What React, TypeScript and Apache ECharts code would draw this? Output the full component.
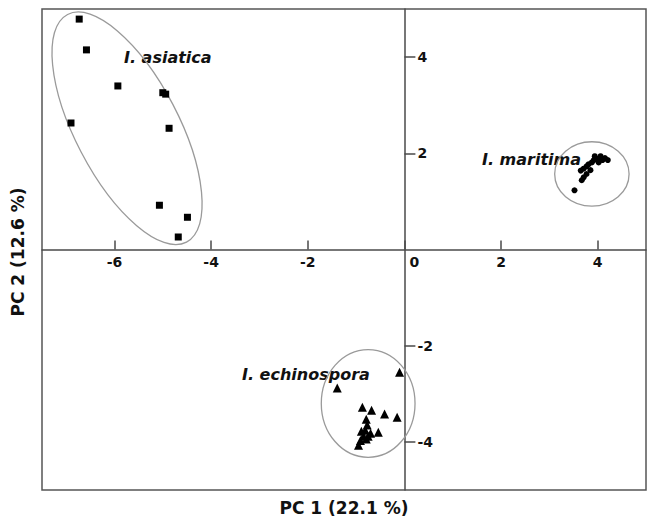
import React, { useEffect, useRef } from "react";
import * as echarts from "echarts";

// PCA scores
const asiatica: number[][] = [
  [-6.73, 4.79], [-6.58, 4.15], [-5.93, 3.40], [-5.00, 3.26], [-4.94, 3.23],
  [-6.90, 2.63], [-4.87, 2.52], [-5.07, 0.92], [-4.49, 0.67], [-4.68, 0.26],
];
const maritima: number[][] = [
  [3.52, 1.23], [3.67, 1.44], [3.71, 1.50], [3.77, 1.57], [3.65, 1.64],
  [3.71, 1.68], [3.77, 1.73], [3.81, 1.77], [3.88, 1.81], [3.92, 1.86],
  [4.00, 1.88], [4.02, 1.81], [4.10, 1.86], [4.15, 1.90], [4.21, 1.86],
  [3.94, 1.94], [4.06, 1.94], [3.85, 1.65],
];
const echinospora: number[][] = [
  [-0.10, -2.55], [-1.39, -2.88], [-0.87, -3.28], [-0.68, -3.34], [-0.41, -3.42],
  [-0.15, -3.49], [-0.79, -3.53], [-0.77, -3.65], [-0.81, -3.76], [-0.70, -3.82],
  [-0.54, -3.80], [-0.89, -3.78], [-0.85, -3.88], [-0.75, -3.88], [-0.91, -3.97],
  [-0.95, -4.07], [-0.79, -3.94],
];
// ellipses: [centerX, centerY, semiAxisX, semiAxisY, rotationDeg]
const ellipses: number[][] = [
  [-5.74, 2.52, 1.07, 2.67, 27.6],
  [3.88, 1.57, 0.77, 0.67, 0],
  [-0.75, -3.20, 0.97, 1.12, 0],
];
const xTicks = [-6, -4, -2, 0, 2, 4];
const yTicks = [-4, -2, 2, 4];
const groupNames = ["I. asiatica", "I. maritima", "I. echinospora"];

const X_MIN = -7.5, X_MAX = 5, Y_MIN = -5, Y_MAX = 5;
const W = 647, H = 522;
const G = { left: 42, right: 1, top: 9, bottom: 32 };

export default function App() {
  const ref = useRef<HTMLDivElement>(null);
  useEffect(() => {
    if (!ref.current) return;
    const chart = echarts.init(ref.current, null, { renderer: "svg" });
    const axisColor = "#4a4a4a";
    const gw = W - G.left - G.right;
    const gh = H - G.top - G.bottom;
    // move the axes (line, ticks and labels) onto the zero lines
    const xOffset = -(gh * (0 - Y_MIN)) / (Y_MAX - Y_MIN);
    const yOffset = -(gw * (0 - X_MIN)) / (X_MAX - X_MIN);
    const labelStyle = {
      fontFamily: "DejaVu Sans",
      fontWeight: "bold" as const,
      fontStyle: "italic" as const,
      fontSize: 16,
      fill: "#111",
    };
    const tickFont = { fontWeight: "bold" as const, fontSize: 14, fontFamily: "DejaVu Sans", color: "#111" };
    const titleStyle = { fontFamily: "DejaVu Sans", fontWeight: "bold" as const, fontSize: 17, fill: "#111", textAlign: "center" as const, textVerticalAlign: "middle" as const };
    chart.setOption({
      animation: false,
      backgroundColor: "#fff",
      grid: {
        ...G,
        show: true, borderColor: "#555", borderWidth: 1.5,
      },
      xAxis: {
        type: "value", min: X_MIN, max: X_MAX, offset: xOffset,
        axisLine: { onZero: false, lineStyle: { color: axisColor, width: 1.5 } },
        axisTick: { show: true, inside: true, length: 9, customValues: xTicks, lineStyle: { color: axisColor, width: 1.5 } },
        axisLabel: {
          customValues: xTicks, margin: 5, ...tickFont,
          formatter: (v: number) => (v === 0 ? "{z|0}" : String(v)),
          rich: { z: { padding: [0, 0, 0, 20], ...tickFont } },
        },
        splitLine: { show: false },
      },
      yAxis: {
        type: "value", min: Y_MIN, max: Y_MAX, offset: yOffset,
        axisLine: { onZero: false, lineStyle: { color: axisColor, width: 1.5 } },
        axisTick: { show: true, inside: true, length: 11, customValues: yTicks, lineStyle: { color: axisColor, width: 1.5 } },
        axisLabel: {
          inside: true, customValues: yTicks, margin: 13, ...tickFont,
        },
        splitLine: { show: false },
      },
      series: [
        {
          type: "custom",
          data: ellipses,
          encode: { x: 0, y: 1 },
          renderItem: (_params: any, api: any) => {
            const c = api.coord([api.value(0), api.value(1)]);
            const s = api.size([1, 1]);
            return {
              type: "ellipse",
              x: c[0], y: c[1],
              rotation: (api.value(4) * Math.PI) / 180,
              shape: { cx: 0, cy: 0, rx: api.value(2) * s[0], ry: api.value(3) * s[1] },
              style: { fill: "none", stroke: "#9a9a9a", lineWidth: 1.3 },
            };
          },
          z: 1,
        },
        {
          name: groupNames[0], type: "scatter", data: asiatica, symbol: "rect", symbolSize: 7,
          itemStyle: { color: "#000", opacity: 1 }, z: 3,
        },
        {
          name: groupNames[1], type: "scatter", data: maritima, symbol: "circle", symbolSize: 6,
          itemStyle: { color: "#000", opacity: 1 }, z: 3,
        },
        {
          name: groupNames[2], type: "scatter", data: echinospora, symbol: "triangle", symbolSize: 9,
          itemStyle: { color: "#000", opacity: 1 }, z: 3,
        },
      ],
      graphic: [
        { type: "text", x: 124, y: 57, style: { ...labelStyle, text: groupNames[0], textVerticalAlign: "middle" } },
        { type: "text", x: 482, y: 159, style: { ...labelStyle, text: groupNames[1], textVerticalAlign: "middle" } },
        { type: "text", x: 242, y: 374, style: { ...labelStyle, text: groupNames[2], textVerticalAlign: "middle" } },
        { type: "text", x: 344, y: 508, style: { ...titleStyle, text: "PC 1 (22.1 %)" } },
        { type: "text", x: 18, y: 252, rotation: Math.PI / 2, style: { ...titleStyle, text: "PC 2 (12.6 %)" } },
      ],
    });
    return () => chart.dispose();
  }, []);
  return (
    <div
      ref={ref}
      style={{ position: "absolute", left: 0, top: 0, width: W, height: H }}
    />
  );
}
